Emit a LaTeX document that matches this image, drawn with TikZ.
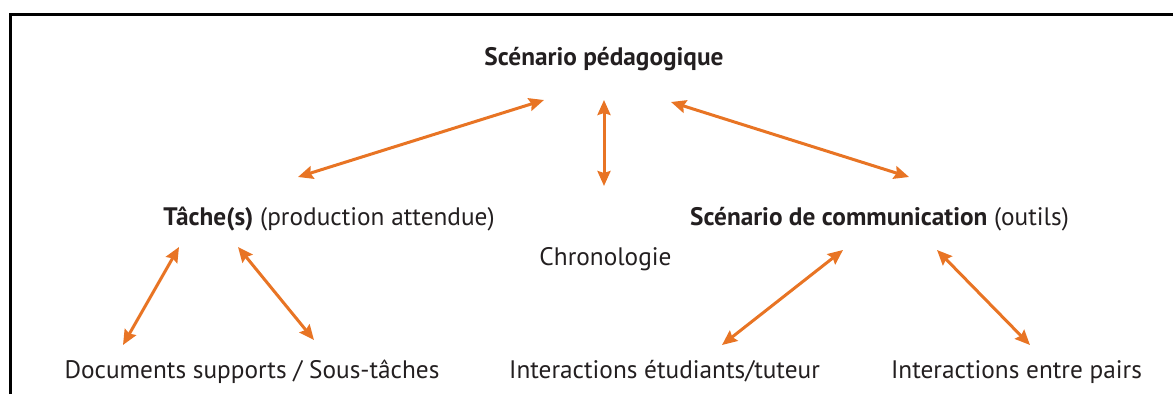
\documentclass[tikz,border=0pt]{standalone}
\usepackage{fontspec}
\setmainfont{PT Sans}
\usepackage{xcolor}
\usetikzlibrary{arrows.meta,calc}
\definecolor{orangearrow}{RGB}{232,116,36}
\definecolor{textdark}{RGB}{35,31,32}

\begin{document}
\begin{tikzpicture}[x=1pt, y=-1pt, font=\fontsize{25.3}{29}\selectfont]
\tikzstyle{label} = [inner sep=0pt, anchor=base, text=textdark]
\tikzstyle{arrow} = [line width=3pt, draw=orangearrow, {Stealth[length=15pt,width=13pt,inset=2pt]}-{Stealth[length=15pt,width=13pt,inset=2pt]}]

\useasboundingbox (0,0) rectangle (1173,394);
\draw [line width=3.5pt] (10.5,394) -- (10.5,14.5) -- (1173,14.5);

\node [label] (scenario) at (604,65) {\textbf{Scénario pédagogique}};
\node [label] (tache) at (329,225) {\textbf{Tâche(s)} (production attendue)};
\node [label] (chrono) at (605.5,265) {Chronologie};
\node [label] (comm) at (879.5,225) {\textbf{Scénario de communication} (outils)};
\node [label] (docs) at (252,378) {Documents supports / Sous-tâches};
\node [label] (etud) at (664.5,378) {Interactions étudiants/tuteur};
\node [label] (pairs) at (1016.5,378) {Interactions entre pairs};

\draw [arrow] ($(scenario.base)+(-60,35)$) -- ($(tache.base)+(-31,-48)$);
\draw [arrow] ($(scenario.base)+(0,35)$) -- ($(chrono.base)+(-1.5,-79)$);
\draw [arrow] ($(scenario.base)+(67,37)$) -- ($(comm.base)+(29.5,-48)$);
\draw [arrow] ($(tache.base)+(-150,22)$) -- ($(docs.base)+(-129,-33)$);
\draw [arrow] ($(tache.base)+(-91,22)$) -- ($(docs.base)+(62,-38)$);
\draw [arrow] ($(comm.base)+(-36.5,25)$) -- ($(etud.base)+(57.5,-33)$);
\draw [arrow] ($(comm.base)+(57.5,25)$) -- ($(pairs.base)+(13.5,-33)$);

\end{tikzpicture}
\end{document}
